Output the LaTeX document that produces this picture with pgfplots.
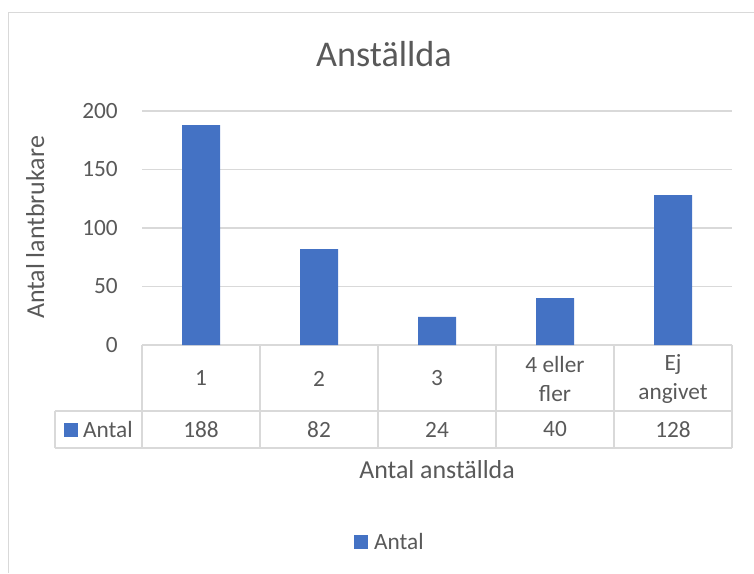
\documentclass[border=0pt]{standalone}
\usepackage{pgfplots}
\usepackage{pgfplotstable}
\pgfplotsset{compat=1.18}
\usepackage{fontspec}
\setmainfont{Carlito}
\definecolor{txtgray}{HTML}{595959}
\definecolor{linegray}{HTML}{D9D9D9}
\definecolor{barblue}{HTML}{4472C4}
\pgfkeys{/pgf/number format/assume math mode=true}
\newcommand{\tablefont}{\fontsize{23.3}{29}\selectfont}

% number of employees per farm (category position, count)
\pgfplotstableread{
pos antal
0 188
1 82
2 24
3 40
4 128
}\anstallda

\begin{document}
\begin{tikzpicture}[x=1pt,y=1pt]
\useasboundingbox (0,0) rectangle (754,573);
% chart frame
\draw[linegray, line width=1.3] (8.5,0) -- (8.5,560.5) -- (754,560.5);

\begin{axis}[
  at={(142pt,228pt)}, anchor=south west,
  scale only axis, width=590pt, height=234pt,
  xmin=-0.5, xmax=4.5, ymin=0, ymax=200,
  clip=false,
  axis line style={draw=none},
  major tick length=0pt,
  ytick={0,50,100,150,200},
  ymajorgrids, grid style={linegray, line width=1.3pt},
  xtick={0,1,2,3,4},
  xticklabels={1,2,3,{4 eller\\fler},{Ej\\angivet}},
  ticklabel style={font=\tablefont, text=txtgray, inner sep=0pt},
  yticklabel style={anchor=east, xshift=-24pt},
  xticklabel style={anchor=center, align=center, yshift=-33.5pt},
  legend style={at={(axis description cs:0.4186,-0.842)}, anchor=center,
    draw=none, fill=none, inner sep=0pt, font=\tablefont, text=txtgray,
    column sep=6pt, nodes={inner sep=0pt}},
  legend image code/.code={\fill[barblue] (0pt,-7pt) rectangle (14pt,7pt);},
]
\addplot[ybar, bar width=38pt, fill=barblue, draw=none]
  table[x=pos, y=antal]{\anstallda};
\addlegendentry{Antal}
% value row of the data table
\addplot[draw=none, forget plot, point meta=rawy,
  y filter/.expression={-72.2},
  nodes near coords, nodes near coords align=center,
  every node near coord/.append style={font=\tablefont, text=txtgray,
    inner sep=0pt, anchor=center}]
  table[x=pos, y=antal]{\anstallda};
\end{axis}

% data table grid
\begin{scope}[linegray, line width=1.3]
\draw (55,162) -- (732,162);
\draw (55,125) -- (732,125);
\draw (55,125) -- (55,162);
\foreach \xx in {142,260,378,496,614,732} \draw (\xx,125) -- (\xx,228);
\end{scope}
\fill[barblue] (64,136) rectangle (78,150);
\node[anchor=base west, inner sep=0pt, font=\tablefont, text=txtgray] at (83,136) {Antal};

% titles
\node[anchor=base, inner sep=0pt, font=\fontsize{36.2}{44}\selectfont, text=txtgray] at (384,506) {Anställda};
\node[anchor=base, inner sep=0pt, font=\fontsize{25.9}{31}\selectfont, text=txtgray] at (437,95) {Antal anställda};
\node[anchor=base, rotate=90, inner sep=0pt, font=\fontsize{25.9}{31}\selectfont, text=txtgray] at (44,345.5) {Antal lantbrukare};
\end{tikzpicture}
\end{document}
